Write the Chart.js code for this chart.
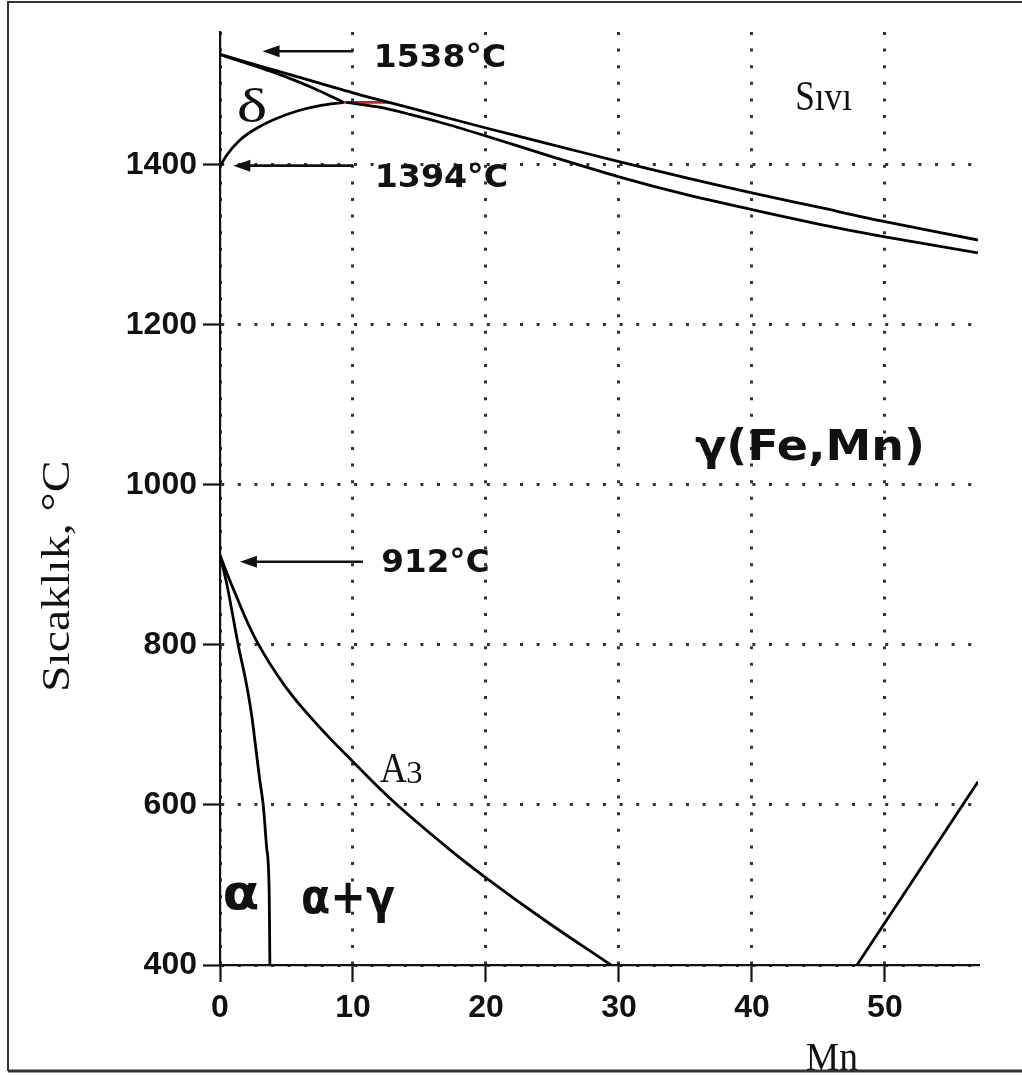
<!DOCTYPE html>
<html>
<head>
<meta charset="utf-8">
<script src="https://cdn.jsdelivr.net/npm/chart.js@4.4.1/dist/chart.umd.min.js"></script>
<style>
html,body{margin:0;padding:0;background:#fff;}
canvas{display:block;}
</style>
</head>
<body>
<canvas id="c" width="1022" height="1075"></canvas>
<script>
// ---- data (Mn wt%, temperature °C) ----
const xTicks = [0, 10, 20, 30, 40, 50];
const yTicks = [400, 600, 800, 1000, 1200, 1400];

const liquidusMn = [0, 5, 10, 15, 20, 25, 30, 35, 40, 45, 50, 57];
const liquidusT  = [1538, 1514, 1490, 1468, 1446, 1425, 1404, 1384, 1365, 1347, 1329, 1306];

const deltaSolidusMn = [0, 4.3, 7, 9.3];
const deltaSolidusT  = [1538, 1514, 1496, 1478];

const deltaGammaMn = [0, 0.5, 1.5, 3, 4.25, 5.75, 7.5, 9.3];
const deltaGammaT  = [1398, 1412, 1431, 1448, 1458, 1467, 1474, 1478];

const gammaSolidusMn = [9.5, 12, 14.3, 17, 20, 25, 30, 35, 40, 45, 50, 57];
const gammaSolidusT  = [1478, 1472, 1463, 1451, 1436, 1410, 1385, 1363, 1344, 1326, 1310, 1290];

const peritecticMn = [9.3, 12.8];
const peritecticT  = [1478, 1478];

const alphaMn = [0, 0.5, 1.37, 2.0, 2.4, 2.7, 3.0, 3.25, 3.5, 3.7, 3.75];
const alphaT  = [912, 877, 800, 750, 710, 670, 630, 600, 548, 490, 400];

const a3Mn = [0, 1, 2.75, 5, 7.5, 10, 13, 17, 20, 24.5, 29.4];
const a3T  = [912, 870, 805, 746, 697, 654, 605, 548, 509, 455, 400];

const rightMn = [47.9, 57];
const rightT  = [400, 629];

// arrows: [fromMn, toMn, T]
const arrowFromMn = [10, 10, 10.75];
const arrowToMn   = [3.2, 1.0, 1.5];
const arrowT      = [1542, 1399, 904];

// ---- annotation texts (position in data units) ----
const labels = [
  {t:'δ', x:2.37, y:1475.6, w:27, h:35, font:'48px "Liberation Serif"'},
  {t:'Sıvı', x:45.45, y:1486, w:55, h:28, font:'40px "Liberation Serif"'},
  {t:'γ(Fe,Mn)', x:44.25, y:1046, w:227, h:40, font:'bold 36px "DejaVu Sans"'},
  {t:'1538°C', x:16.62, y:1537.5, w:128, h:24, font:'bold 30px "DejaVu Sans"'},
  {t:'1394°C', x:16.73, y:1388, w:129, h:25, font:'bold 30px "DejaVu Sans"'},
  {t:'912°C', x:16.2, y:906, w:106, h:24, font:'bold 30px "DejaVu Sans"'},
  {t:'A', x:13.05, y:646, w:27, h:28, font:'40px "Liberation Serif"'},
  {t:'3', x:14.62, y:640, w:14, h:20, font:'28px "Liberation Serif"'},
  {t:'α', x:1.62, y:486, w:33, h:28, font:'bold 44px "DejaVu Sans"'},
  {t:'α+γ', x:9.7, y:478, w:92, h:41, font:'bold 44px "DejaVu Sans"'},
  {t:'Sıcaklık, °C', x:-12.22, y:885.6, w:227, h:35, font:'44px "Liberation Serif"', rot:-Math.PI/2},
  {t:'Mn', x:46.05, y:286, w:51, h:27, font:'36px "Liberation Serif"'}
];

function pts(xs, ys){ return xs.map((v,i)=>({x:v, y:ys[i]})); }
function line(xs, ys, color, mode){
  const ds = {data: pts(xs, ys), showLine:true, borderColor:color, borderWidth:2.8,
          pointRadius:0, fill:false, tension:0};
  if (mode === 'mono') ds.cubicInterpolationMode = 'monotone';
  else if (typeof mode === 'number') ds.tension = mode;
  return ds;
}

function drawFitted(ctx, text, cx, cy, w, h, font, rot){
  ctx.save();
  ctx.font = font;
  ctx.textAlign = 'left';
  ctx.textBaseline = 'alphabetic';
  const m = ctx.measureText(text);
  const iw = m.actualBoundingBoxLeft + m.actualBoundingBoxRight;
  const ih = m.actualBoundingBoxAscent + m.actualBoundingBoxDescent;
  ctx.translate(cx, cy);
  if (rot) ctx.rotate(rot);
  ctx.scale(w/iw, h/ih);
  ctx.fillStyle = '#111';
  ctx.fillText(text, -(m.actualBoundingBoxRight - m.actualBoundingBoxLeft)/2,
               (m.actualBoundingBoxAscent - m.actualBoundingBoxDescent)/2);
  ctx.restore();
}

const annot = {
  id:'annot',
  afterDatasetsDraw(chart){
    const {ctx, scales:{x, y}} = chart;
    ctx.save();
    ctx.strokeStyle = '#111'; ctx.fillStyle = '#111'; ctx.lineWidth = 2.6;
    for (let i=0;i<arrowT.length;i++){
      const x1 = x.getPixelForValue(arrowFromMn[i]);
      const x2 = x.getPixelForValue(arrowToMn[i]);
      const yy = y.getPixelForValue(arrowT[i]);
      const hl = 17, hw = 6;
      ctx.beginPath(); ctx.moveTo(x1, yy); ctx.lineTo(x2 + hl - 2, yy); ctx.stroke();
      ctx.beginPath(); ctx.moveTo(x2, yy); ctx.lineTo(x2 + hl, yy - hw); ctx.lineTo(x2 + hl, yy + hw); ctx.closePath(); ctx.fill();
    }
    ctx.restore();
    labels.forEach(l => drawFitted(ctx, l.t, x.getPixelForValue(l.x), y.getPixelForValue(l.y), l.w, l.h, l.font, l.rot));
    ctx.save();
    ctx.strokeStyle = '#333';
    ctx.lineWidth = 2;
    ctx.beginPath();
    ctx.moveTo(8, 1071); ctx.lineTo(8, 2); ctx.lineTo(1022, 2);
    ctx.stroke();
    ctx.lineWidth = 3;
    ctx.beginPath(); ctx.moveTo(8, 1071); ctx.lineTo(1022, 1071); ctx.stroke();
    ctx.restore();
  }
};

const gridCommon = {
  color:'#333', lineWidth:3, tickLength:17, tickColor:'#111', tickWidth:2.2, tickBorderDash:[]
};
const tickFont = {family:'"Liberation Sans", Arial', size:32, weight:'bold'};

new Chart(document.getElementById('c'), {
  type:'scatter',
  data:{ datasets:[
    line(liquidusMn, liquidusT, '#000', 0.3),
    line(deltaSolidusMn, deltaSolidusT, '#000', 0.3),
    line(deltaGammaMn, deltaGammaT, '#000', 'mono'),
    line(gammaSolidusMn, gammaSolidusT, '#000', 0.3),
    line(alphaMn, alphaT, '#000', 'mono'),
    line(a3Mn, a3T, '#000', 0.4),
    line(rightMn, rightT, '#000', 0),
    line(peritecticMn, peritecticT, '#e01818', 0)
  ]},
  options:{
    responsive:false, animation:false, devicePixelRatio:1,
    layout:{padding:{left:0, right:44, top:32, bottom:0}},
    plugins:{legend:{display:false}, tooltip:{enabled:false}},
    scales:{
      x:{
        type:'linear', position:'bottom', min:0, max:57,
        afterFit(s){ s.height = 110; },
        afterBuildTicks(s){ s.ticks = xTicks.map(v=>({value:v})); },
        ticks:{ font:tickFont, color:'#111', padding:7, maxRotation:0, callback:v=>String(v) },
        grid: gridCommon,
        border:{display:true, color:'#111', width:2.2, dash:[3,13.6]}
      },
      y:{
        type:'linear', position:'left', min:400, max:1566,
        afterFit(s){ s.width = 220; },
        afterBuildTicks(s){ s.ticks = yTicks.map(v=>({value:v})); },
        ticks:{ font:tickFont, color:'#111', padding:6, callback:v=>String(v) },
        grid: gridCommon,
        border:{display:true, color:'#111', width:2.2, dash:[3,13.6]}
      }
    }
  },
  plugins:[annot]
});
</script>
</body>
</html>
